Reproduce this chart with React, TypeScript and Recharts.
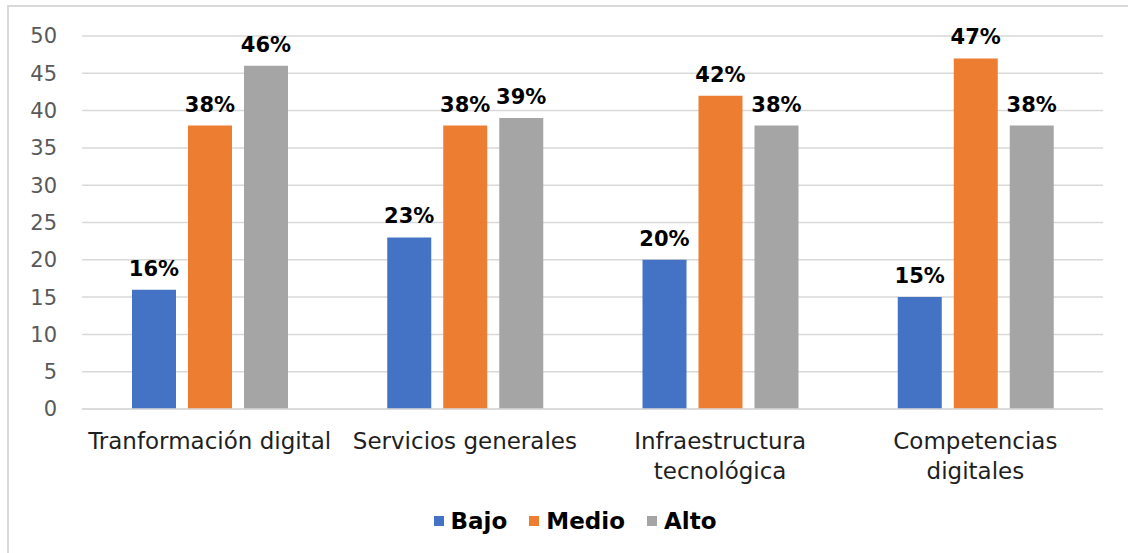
import { BarChart, Bar, XAxis, YAxis, CartesianGrid, Legend, LabelList } from 'recharts';

const categories = ['Tranformación digital', 'Servicios generales', 'Infraestructura\ntecnológica', 'Competencias\ndigitales'];
const bajo = [16, 23, 20, 15];
const medio = [38, 38, 42, 47];
const alto = [46, 39, 38, 38];
const yTicks = [0, 5, 10, 15, 20, 25, 30, 35, 40, 45, 50];

const SERIES = [
  { key: 'bajo', name: 'Bajo', color: '#4472C4' },
  { key: 'medio', name: 'Medio', color: '#ED7D31' },
  { key: 'alto', name: 'Alto', color: '#A5A5A5' },
];

const FONT = '"DejaVu Sans", sans-serif';

const data = categories.map((c, i) => ({ name: c, bajo: bajo[i], medio: medio[i], alto: alto[i] }));

function CategoryTick({ x, y, payload }: any) {
  const lines = String(payload.value).split('\n');
  return (
    <text x={x} y={y} textAnchor="middle" fill="#1f1f1f" fontFamily={FONT} fontSize={23}>
      {lines.map((l, i) => (
        <tspan key={l} x={x} dy={i === 0 ? 38 : 30}>
          {l}
        </tspan>
      ))}
    </text>
  );
}

function LegendContent() {
  return (
    <div style={{ display: 'flex', justifyContent: 'center', alignItems: 'center', paddingLeft: 22 }}>
      {SERIES.map((s) => (
        <div key={s.key} style={{ display: 'flex', alignItems: 'center', margin: '0 11px' }}>
          <span style={{ width: 10, height: 10, background: s.color, display: 'inline-block', marginRight: 7 }} />
          <span style={{ fontFamily: FONT, fontWeight: 'bold', fontSize: 23, color: '#000' }}>{s.name}</span>
        </div>
      ))}
    </div>
  );
}

export default function App() {
  return (
    <div style={{ position: 'absolute', left: 0, top: 0, width: 1128, height: 553, background: '#fff' }}>
      <div
        style={{
          position: 'absolute',
          left: 7,
          top: 5,
          right: 0,
          bottom: 0,
          borderTop: '2px solid #d9d9d9',
          borderLeft: '2px solid #d9d9d9',
        }}
      />
      <BarChart
        width={1128}
        height={553}
        data={data}
        margin={{ top: 36, right: 25, left: 0, bottom: 34 }}
        barSize={44}
        barGap={12}
      >
        <CartesianGrid vertical={false} stroke="#d9d9d9" strokeWidth={1.5} />
        <XAxis
          dataKey="name"
          height={80}
          interval={0}
          tick={<CategoryTick />}
          tickLine={false}
          tickSize={0}
          axisLine={{ stroke: '#d9d9d9', strokeWidth: 1.5 }}
        />
        <YAxis
          width={82}
          domain={[0, 50]}
          ticks={yTicks}
          interval={0}
          axisLine={false}
          tickLine={false}
          tickSize={0}
          tickMargin={25}
          tick={{ fill: '#595959', fontSize: 21, fontFamily: FONT }}
        />
        <Legend
          verticalAlign="bottom"
          content={<LegendContent />}
          wrapperStyle={{ left: 0, width: 1128, top: 508, height: 30 }}
        />
        {SERIES.map((s) => (
          <Bar key={s.key} dataKey={s.key} name={s.name} fill={s.color} isAnimationActive={false}>
            <LabelList
              dataKey={s.key}
              position="top"
              offset={14}
              formatter={(v: any) => `${v}%`}
              style={{ fill: '#000', fontSize: 21, fontWeight: 'bold', fontFamily: FONT }}
            />
          </Bar>
        ))}
      </BarChart>
    </div>
  );
}
